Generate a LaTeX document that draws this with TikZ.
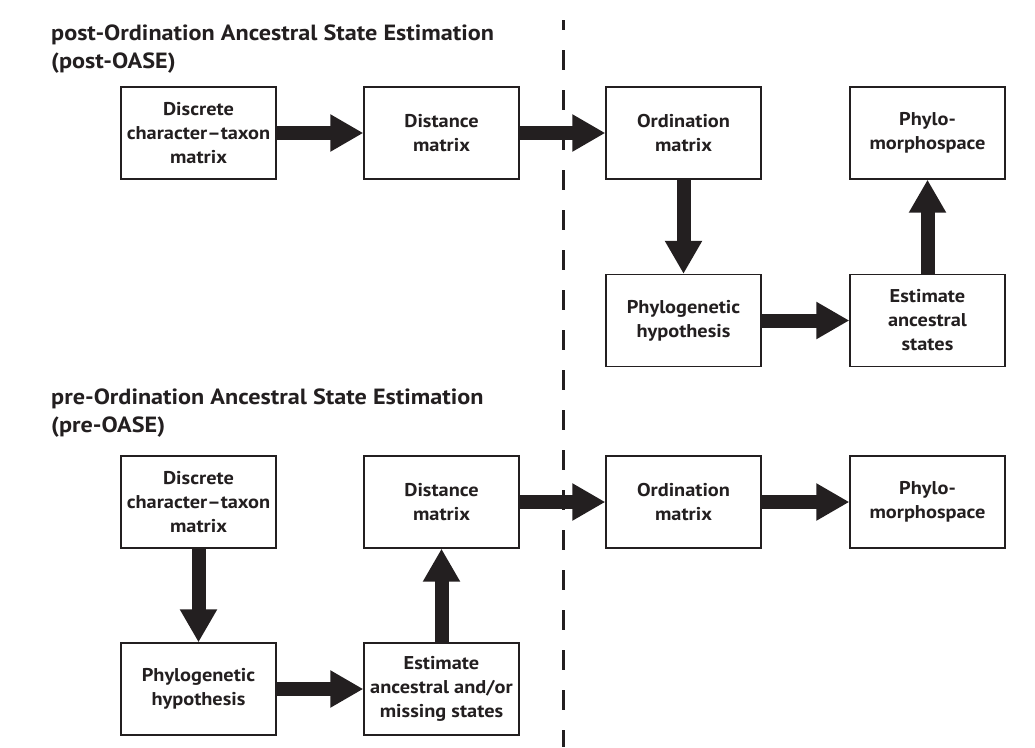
\documentclass[tikz,border=0pt]{standalone}
\usepackage{fontspec}
\setmainfont{PT Sans}[FakeStretch=1.1]
\usetikzlibrary{arrows.meta}
\definecolor{ink}{HTML}{231F20}
\tikzset{
  box/.style={draw=ink, line width=1.3pt, minimum width=155pt, minimum height=92pt, inner sep=0pt,
    align=center, font=\fontsize{18.5}{24}\selectfont\bfseries, text=ink},
  bigarrow/.style={draw=ink, line width=14pt, line cap=butt, -{Triangle[width=35pt,length=33pt]}},
  ttl/.style={anchor=north west, align=left, inner sep=0pt, font=\fontsize{22}{28}\selectfont\bfseries, text=ink},
  divider/.style={draw=ink, line width=3pt, dash pattern=on 20pt off 20pt, dash phase=10pt}
}
\begin{document}
\begin{tikzpicture}[x=1pt,y=-1pt]
\useasboundingbox (0,0) rectangle (1035,747);
% titles
\node[ttl] (t1) at (51,24.5) {post-Ordination Ancestral State Estimation\\(post-OASE)};
\node[ttl] (t2) at (51,388.5) {pre-Ordination Ancestral State Estimation\\(pre-OASE)};
% divider
\coordinate (dtop) at (563,20);
\coordinate (dbot) at (563,747);
\draw[divider] (dtop) -- (dbot);
% top boxes
\node[box] (a1) at (198.5,133) {Discrete\\character–taxon\\matrix};
\node[box] (a2) at (441.5,133) {Distance\\matrix};
\node[box] (a3) at (683.5,133) {Ordination\\matrix};
\node[box] (a4) at (927.5,133) {Phylo-\\morphospace};
\node[box] (a5) at (683.5,320.5) {Phylogenetic\\hypothesis};
\node[box] (a6) at (927.5,320.5) {Estimate\\ancestral\\states};
% bottom boxes
\node[box] (b1) at (198.5,502) {Discrete\\character–taxon\\matrix};
\node[box] (b2) at (441.5,502) {Distance\\matrix};
\node[box] (b3) at (683.5,502) {Ordination\\matrix};
\node[box] (b4) at (927.5,502) {Phylo-\\morphospace};
\node[box] (b5) at (198.5,689) {Phylogenetic\\hypothesis};
\node[box] (b6) at (441.5,689) {Estimate\\ancestral and/or\\missing states};
% arrows top
\draw[bigarrow] (a1.east) -- (a2.west);
\draw[bigarrow] (a2.east) -- (a3.west);
\draw[bigarrow] (a3.south) -- (a5.north);
\draw[bigarrow] (a5.east) -- (a6.west);
\draw[bigarrow] (a6.north) -- (a4.south);
% arrows bottom
\draw[bigarrow] (b1.south) -- (b5.north);
\draw[bigarrow] (b5.east) -- (b6.west);
\draw[bigarrow] (b6.north) -- (b2.south);
\draw[bigarrow] (b2.east) -- (b3.west);
\draw[bigarrow] (b3.east) -- (b4.west);
\end{tikzpicture}
\end{document}
